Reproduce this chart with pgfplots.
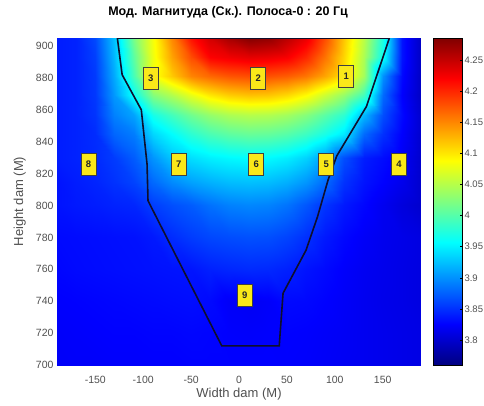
\documentclass[border=0pt]{standalone}
\usepackage{fontspec}
\setmainfont{Liberation Sans}
\usepackage{pgfplots}
\pgfplotsset{compat=1.18}
\usepackage{pgfplotstable}

\definecolor{ticktext}{RGB}{80,80,80}
\definecolor{tagfill}{RGB}{250,232,25}
\definecolor{outline}{RGB}{15,15,45}

% Magnitude over the dam cross-section: width x (M), height y (M), value z
\pgfplotstableread{
x y z
-190 700 3.822
-170 700 3.823
-150 700 3.823
-130 700 3.824
-110 700 3.824
-90 700 3.825
-70 700 3.825
-50 700 3.826
-30 700 3.826
-10 700 3.826
10 700 3.826
30 700 3.826
50 700 3.825
70 700 3.824
90 700 3.822
110 700 3.820
130 700 3.818
150 700 3.816
170 700 3.814
190 700 3.812
-190 720 3.823
-170 720 3.824
-150 720 3.825
-130 720 3.826
-110 720 3.826
-90 720 3.827
-70 720 3.827
-50 720 3.828
-30 720 3.827
-10 720 3.825
10 720 3.824
30 720 3.825
50 720 3.826
70 720 3.825
90 720 3.823
110 720 3.821
130 720 3.818
150 720 3.816
170 720 3.814
190 720 3.812
-190 740 3.825
-170 740 3.826
-150 740 3.827
-130 740 3.828
-110 740 3.829
-90 740 3.830
-70 740 3.831
-50 740 3.832
-30 740 3.830
-10 740 3.822
10 740 3.820
30 740 3.823
50 740 3.830
70 740 3.829
90 740 3.826
110 740 3.822
130 740 3.818
150 740 3.815
170 740 3.813
190 740 3.810
-190 760 3.828
-170 760 3.830
-150 760 3.831
-130 760 3.832
-110 760 3.833
-90 760 3.834
-70 760 3.835
-50 760 3.836
-30 760 3.842
-10 760 3.845
10 760 3.847
30 760 3.846
50 760 3.842
70 760 3.835
90 760 3.830
110 760 3.824
130 760 3.819
150 760 3.816
170 760 3.813
190 760 3.810
-190 780 3.830
-170 780 3.831
-150 780 3.832
-130 780 3.833
-110 780 3.834
-90 780 3.838
-70 780 3.848
-50 780 3.856
-30 780 3.862
-10 780 3.865
10 780 3.867
30 780 3.866
50 780 3.860
70 780 3.850
90 780 3.838
110 780 3.829
130 780 3.822
150 780 3.817
170 780 3.814
190 780 3.810
-190 800 3.835
-170 800 3.838
-150 800 3.840
-130 800 3.843
-110 800 3.845
-90 800 3.857
-70 800 3.866
-50 800 3.873
-30 800 3.884
-10 800 3.892
10 800 3.895
30 800 3.893
50 800 3.885
70 800 3.870
90 800 3.852
110 800 3.838
130 800 3.828
150 800 3.818
170 800 3.808
190 800 3.800
-190 815 3.835
-170 815 3.840
-150 815 3.844
-130 815 3.851
-110 815 3.860
-90 815 3.880
-70 815 3.897
-50 815 3.909
-30 815 3.917
-10 815 3.923
10 815 3.925
30 815 3.923
50 815 3.916
70 815 3.903
90 815 3.881
110 815 3.851
130 815 3.835
150 815 3.826
170 815 3.816
190 815 3.800
-190 830 3.840
-170 830 3.843
-150 830 3.847
-130 830 3.856
-110 830 3.873
-90 830 3.902
-70 830 3.927
-50 830 3.940
-30 830 3.949
-10 830 3.954
10 830 3.957
30 830 3.955
50 830 3.948
70 830 3.934
90 830 3.908
110 830 3.865
130 830 3.840
150 830 3.831
170 830 3.820
190 830 3.800
-190 845 3.840
-170 845 3.843
-150 845 3.848
-130 845 3.878
-110 845 3.890
-90 845 3.936
-70 845 3.957
-50 845 3.979
-30 845 3.995
-10 845 4.005
10 845 4.010
30 845 4.008
50 845 4.001
70 845 3.988
90 845 3.969
110 845 3.946
130 845 3.880
150 845 3.850
170 845 3.825
190 845 3.800
-190 857 3.840
-170 857 3.843
-150 857 3.852
-130 857 3.892
-110 857 3.910
-90 857 3.968
-70 857 3.991
-50 857 4.014
-30 857 4.033
-10 857 4.045
10 857 4.050
30 857 4.048
50 857 4.040
70 857 4.025
90 857 4.003
110 857 3.980
130 857 3.920
150 857 3.865
170 857 3.830
190 857 3.800
-190 869 3.840
-170 869 3.843
-150 869 3.854
-130 869 3.904
-110 869 3.963
-90 869 4.025
-70 869 4.048
-50 869 4.076
-30 869 4.100
-10 869 4.114
10 869 4.120
30 869 4.118
50 869 4.108
70 869 4.090
90 869 4.062
110 869 4.034
130 869 3.991
150 869 3.880
170 869 3.825
190 869 3.795
-190 881 3.840
-170 881 3.843
-150 881 3.855
-130 881 3.913
-110 881 3.995
-90 881 4.082
-70 881 4.116
-50 881 4.151
-30 881 4.166
-10 881 4.176
10 881 4.180
30 881 4.178
50 881 4.172
70 881 4.159
90 881 4.134
110 881 4.102
130 881 4.040
150 881 3.900
170 881 3.830
190 881 3.795
-190 893 3.840
-170 893 3.843
-150 893 3.858
-130 893 3.920
-110 893 4.006
-90 893 4.080
-70 893 4.136
-50 893 4.180
-30 893 4.220
-10 893 4.227
10 893 4.233
30 893 4.230
50 893 4.223
70 893 4.200
90 893 4.160
110 893 4.109
130 893 4.045
150 893 3.962
170 893 3.835
190 893 3.795
-190 905 3.840
-170 905 3.843
-150 905 3.863
-130 905 3.925
-110 905 4.020
-90 905 4.084
-70 905 4.150
-50 905 4.211
-30 905 4.243
-10 905 4.266
10 905 4.283
30 905 4.277
50 905 4.255
70 905 4.230
90 905 4.180
110 905 4.117
130 905 4.052
150 905 3.972
170 905 3.835
190 905 3.795
}\fieldtable

% Numbered sensor points
\pgfplotstableread{
x y z t
112 881 4.3 1
20 880 4.3 2
-92 880 4.3 3
167 826 4.3 4
91 826 4.3 5
18 826 4.3 6
-63 826 4.3 7
-157 826 4.3 8
6 744 4.3 9
}\tagtable

\begin{document}
\begin{tikzpicture}
\begin{axis}[
  at={(57pt,40pt)}, anchor=south west,
  width=364pt, height=327pt, scale only axis,
  view={0}{90},
  xmin=-190, xmax=190, ymin=700, ymax=905,
  xtick={-150,-100,-50,0,50,100,150},
  ytick={700,720,740,760,780,800,820,840,860,880,900},
  axis line style={draw=none},
  tick style={draw=none},
  ticklabel style={font=\fontsize{10.5}{12}\selectfont, text=ticktext},
  /pgf/number format/assume math mode=true,
  xticklabel style={yshift=-8pt},
  title={Мод. Магнитуда (Ск.). Полоса-0 : 20 Гц},
  title style={at={(axis description cs:0.47,1.061)}, anchor=center,
    font=\fontsize{12.5}{14}\selectfont\bfseries},
  xlabel={Width dam (М)},
  xlabel style={at={(axis description cs:0.5,-0.09)}, anchor=center,
    font=\fontsize{13}{15}\selectfont, text=ticktext},
  ylabel={Height dam (М)},
  ylabel style={at={(axis description cs:-0.102,0.5)}, anchor=center,
    font=\fontsize{13}{15}\selectfont, text=ticktext},
  colormap/jet,
  point meta min=3.76, point meta max=4.285,
  colorbar,
  colorbar/width=29pt,
  colorbar style={
    at={(parent axis.north east)}, anchor=north west, xshift=4pt,
    ytick={3.8,3.85,3.9,3.95,4,4.05,4.1,4.15,4.2,4.25},
    ytick pos=right,
    tick align=inside,
    major tick length=3pt,
    tick style={draw=black, line width=0.5pt},
    axis line style={draw=black, line width=0.6pt},
    yticklabel style={font=\fontsize{9.5}{11}\selectfont, text=ticktext,
      xshift=-1.5pt,
      /pgf/number format/.cd, fixed, precision=2, assume math mode=true},
  },
]
\addplot3[surf, shader=interp, mesh/cols=20] table[x=x, y=y, z=z] {\fieldtable};

% dam body outline
\addplot3[outline, line width=1.6pt] coordinates {
  (-127,905,4.3) (-122,882,4.3) (-102,860,4.3) (-96,826,4.3) (-95,803,4.3)
  (-18,712,4.3) (42,712,4.3) (46,745,4.3) (70,772,4.3) (82,793,4.3)
  (93,816,4.3) (102,831,4.3) (133,862,4.3) (157,905,4.3) (-127,905,4.3)
};

\addplot3[only marks, mark=*, mark options={draw=none, fill=none},
  nodes near coords, point meta=explicit symbolic,
  every node near coord/.append style={anchor=center, fill=tagfill,
    draw=black!75, line width=0.6pt, text=black!85,
    font=\fontsize{9.5}{10}\selectfont\bfseries,
    minimum width=15pt, minimum height=22pt, inner sep=0pt}]
  table[x=x, y=y, z=z, meta=t] {\tagtable};
\end{axis}
\pgfresetboundingbox
\path[use as bounding box] (0pt,0pt) rectangle (484pt,405pt);
\end{tikzpicture}
\end{document}
